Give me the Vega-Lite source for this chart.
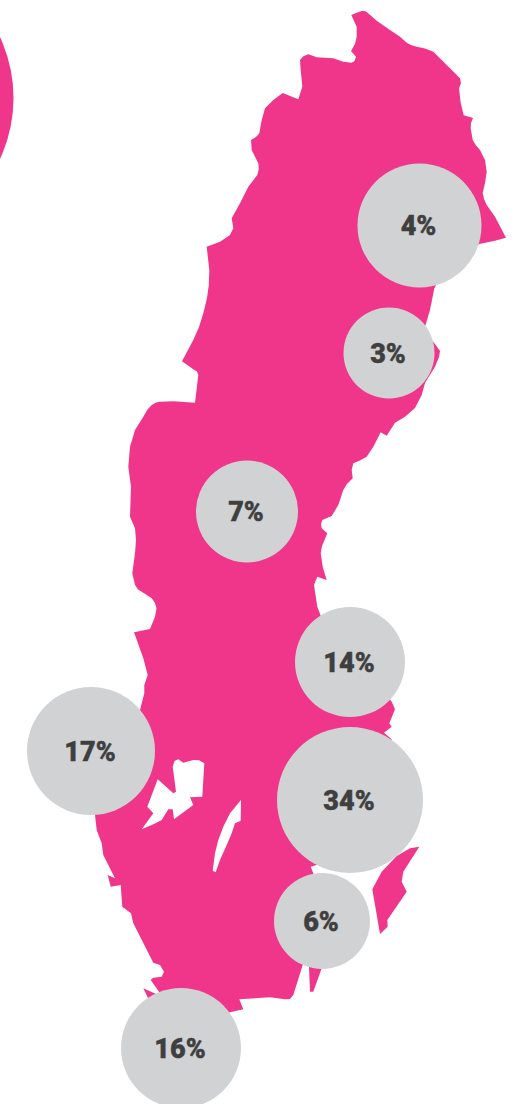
{"$schema":"https://vega.github.io/schema/vega-lite/v6.json","width":519,"height":1104,"padding":0,"autosize":{"type":"none"},"background":"#ffffff","config":{"view":{"stroke":null}},"projection":{"type":"identity","scale":1,"translate":[0,0]},"layer":[{"data":{"values":[{"type":"Feature","properties":{"name":"Sverige"},"geometry":{"type":"Polygon","coordinates":[[[351.3,15],[356,13],[361.7,11],[364.5,11],[366.7,12],[376.7,20.7],[390,30],[400,36.7],[406.7,42.7],[411,45],[416.7,46.7],[425,48.5],[433.3,51.7],[446.7,65],[460,78.3],[461,83.3],[459,88.3],[460.7,103],[463.7,115.3],[473,118],[471,123],[470.7,128.3],[472.7,140],[476,145.5],[480,150],[485,160],[486.7,171.7],[485,183],[482.7,193],[484,199],[486.7,205],[495,216.7],[506,237.7],[495,240.7],[479.3,244],[450,260],[434.3,288.3],[430,310],[425,326.7],[425,335],[433.3,341.7],[440,351],[439,357],[435,366.7],[425,383],[421.7,395],[415,408],[405,416.7],[395,422.7],[386.7,435.7],[380.7,432.3],[373.3,446.7],[366.7,456.7],[360,460.5],[353.3,463.3],[351.7,470],[352.7,478.3],[347,484],[343.3,490],[338.3,505],[331.7,516],[322.3,520],[321,524],[321.7,528.3],[327.3,533.3],[322,546],[320.7,553.3],[322.7,566.7],[326.7,580],[317.3,576.7],[314,585],[317.3,606.7],[330,640],[375,680],[391.7,701.7],[395,709.3],[389.3,723.3],[391.7,726.7],[384,732.7],[391.7,739.3],[380,770],[350,840],[316.7,865],[310.7,866.7],[313.3,873.3],[320,920],[302.7,965],[293.3,995],[290,999],[285,999.3],[270,997.3],[239.3,999.3],[243.3,1009.3],[230,1012.3],[190,1030],[159,991.7],[150.7,980],[153.3,977.7],[161.7,976.7],[164,971.7],[160,965],[153.3,962.7],[133.3,923.3],[131,913.3],[122.3,906.7],[120.7,885],[110.7,886.7],[107.7,875],[115,878.3],[103.3,855],[101.7,843.3],[96.7,830],[95,815],[100,760],[140,710],[144.3,693.3],[144.3,685],[147.7,675],[143.3,658.3],[134,632.3],[150,629],[155,616.7],[156.5,608.3],[155,603],[151.7,598.3],[143.3,592.7],[138,589.5],[135,585],[132.3,573.3],[135,553.3],[136,540],[135,528.3],[130,516.7],[131,486.7],[128.3,466.7],[130,446.7],[135,430],[143.3,416.7],[147.5,409.5],[151.7,405],[156,402.5],[160,401.7],[173.3,401.3],[195,402.7],[198.3,375],[197,371.5],[193.3,369.3],[182,361.3],[193.3,340],[199,327],[203.3,313.3],[207,298],[208.8,285],[209.3,270],[206.7,246.7],[220,241.7],[230,235],[233.3,228.3],[231.7,218.3],[240,203.3],[248.3,186.7],[257.3,175],[258.8,169],[258.3,163.3],[251.7,150],[251,140],[256,137],[259.3,133.3],[261.7,120],[265,108.3],[273.3,100],[282.7,93],[298.3,99.3],[302.3,86.7],[300.7,70],[300,60],[303,56.5],[308.3,54.3],[316.7,57.3],[333.3,58.3],[343.3,61.7],[351.7,62.7],[354.5,61],[356,56.7],[351,51],[355,44],[356.7,36.7],[356.7,26.7],[351.3,15]],[[178.3,759.3],[174.5,761],[172.7,766.7],[176,791.7],[173.3,793.3],[157.7,779.3],[147.3,806.7],[153.3,813.3],[141.7,829.3],[154,824],[161.7,820],[168.3,809.3],[172.7,809.3],[174,819.3],[193.3,805],[190,797.3],[202.3,796.7],[204.3,763.3],[199,760.3],[193.3,760],[183.3,762.7],[178.3,759.3]],[[241,800],[230,813.3],[223.3,826.7],[218.3,840],[215,853.3],[212.7,870.7],[215.7,872.3],[220,860],[226.7,845],[231.7,833.3],[235,823.3],[240.7,820.7],[241,800]]]}},{"type":"Feature","properties":{"name":"Gotland"},"geometry":{"type":"Polygon","coordinates":[[[419.3,846.7],[410,848.3],[396.7,856],[381.7,871.7],[372.3,889.3],[380,934],[387.7,926.7],[387.3,920],[406.7,891.7],[401.7,881.7],[403.3,871.7],[419.3,846.7]]]}},{"type":"Feature","properties":{"name":"Öland"},"geometry":{"type":"Polygon","coordinates":[[[309,955],[309,967.3],[310,991.7],[313.3,991.7],[321.7,968.3],[325,955],[309,955]]]}},{"type":"Feature","properties":{"name":"Skanör"},"geometry":{"type":"Polygon","coordinates":[[[143.3,988.3],[165,998],[150,1002],[143.3,988.3]]]}}]},"mark":{"type":"geoshape","fill":"#F0368A","stroke":null},"encoding":{}},{"data":{"values":[{"lon":-131,"lat":98}]},"mark":{"type":"circle","size":83521,"color":"#F0368A","opacity":1},"encoding":{"longitude":{"field":"lon","type":"quantitative"},"latitude":{"field":"lat","type":"quantitative"}}},{"data":{"name":"regions","values":[{"label":"4%","share":4,"lon":419.5,"lat":225.5},{"label":"3%","share":3,"lon":389,"lat":353},{"label":"7%","share":7,"lon":247,"lat":511.5},{"label":"14%","share":14,"lon":350,"lat":662},{"label":"17%","share":17,"lon":91,"lat":751},{"label":"34%","share":34,"lon":350,"lat":800},{"label":"6%","share":6,"lon":322,"lat":921},{"label":"16%","share":16,"lon":181,"lat":1048}]},"mark":{"type":"circle","color":"#D1D2D4","opacity":1},"encoding":{"longitude":{"field":"lon","type":"quantitative"},"latitude":{"field":"lat","type":"quantitative"},"size":{"field":"share","type":"ordinal","legend":null,"scale":{"type":"ordinal","domain":[3,4,6,7,14,16,17,34],"range":[8281,15376,9216,10404,12100,14400,16384,21316]}}}},{"data":{"name":"regions"},"mark":{"type":"text","font":"Roboto","fontWeight":900,"fontSize":27,"color":"#3F3F40","align":"center","baseline":"middle","dy":1.5,"dx":-1,"stroke":"#3F3F40","strokeWidth":0.4},"encoding":{"longitude":{"field":"lon","type":"quantitative"},"latitude":{"field":"lat","type":"quantitative"},"text":{"field":"label"}}}]}
